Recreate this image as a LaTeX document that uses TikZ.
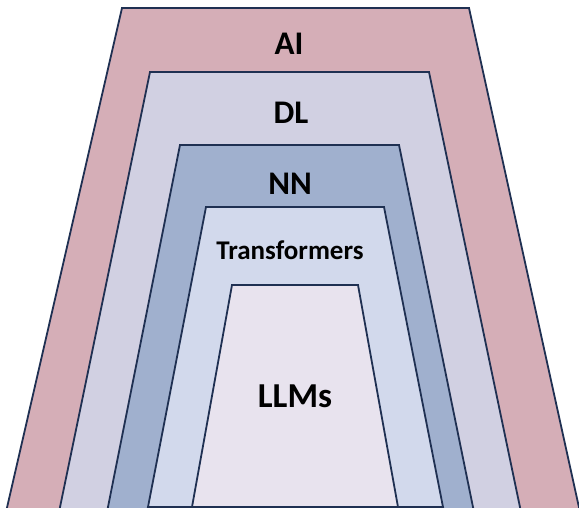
\documentclass[tikz,border=0pt]{standalone}
\usepackage{fontspec}
\setmainfont{Carlito}
\definecolor{edge}{RGB}{31,48,82}
\definecolor{aicol}{RGB}{213,174,183}
\definecolor{dlcol}{RGB}{209,208,226}
\definecolor{nncol}{RGB}{160,176,206}
\definecolor{trcol}{RGB}{210,217,236}
\definecolor{llcol}{RGB}{232,227,238}
\begin{document}
\begin{tikzpicture}[x=1pt,y=-1pt,
  layer/.style={draw=edge,line width=1.8pt,line join=miter},
  lbl/.style={text=black, inner sep=0pt}]
\useasboundingbox (0,0) rectangle (579,508);
\clip (0,0) rectangle (579,508);
\filldraw[layer,fill=aicol] (122,8) -- (469,8) -- (580,512) -- (6,512) -- cycle;
\filldraw[layer,fill=dlcol] (150,72) -- (429,72) -- (521,512) -- (59,512) -- cycle;
\filldraw[layer,fill=nncol] (180,145) -- (399,145) -- (474,512) -- (107,512) -- cycle;
\filldraw[layer,fill=trcol] (206,207) -- (384,207) -- (443,507) -- (148,507) -- cycle;
\filldraw[layer,fill=llcol] (232,285) -- (358,285) -- (398,507) -- (192,507) -- cycle;
\node[lbl,font=\fontsize{33}{36}\selectfont\bfseries] (ai) at (289,43.5) {AI};
\node[lbl,font=\fontsize{33}{36}\selectfont\bfseries] (dl) at (291,112.5) {DL};
\node[lbl,font=\fontsize{33}{36}\selectfont\bfseries] (nn) at (290,184) {NN};
\node[lbl,font=\fontsize{27}{30}\selectfont\bfseries,anchor=base] (tr) at (290,260) {Transformers};
\node[lbl,font=\fontsize{35}{38}\selectfont\bfseries] (ll) at (295,396) {LLMs};
\end{tikzpicture}
\end{document}
